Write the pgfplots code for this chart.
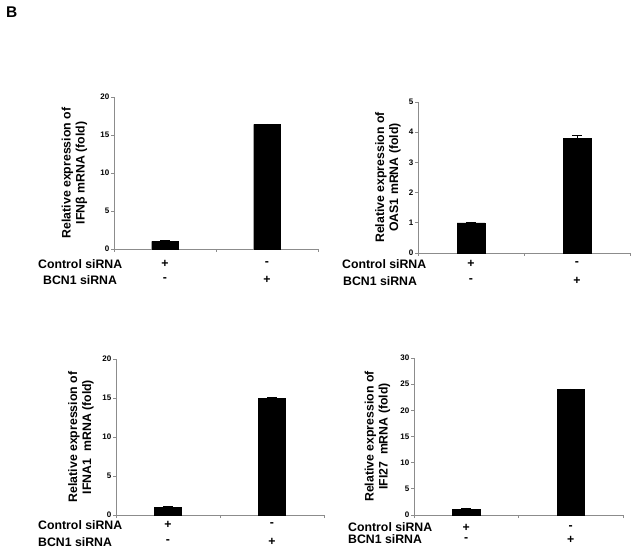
\documentclass[border=0pt]{standalone}
\usepackage{fontspec}
\setmainfont{Liberation Sans}
\usepackage{pgfplots}
\pgfplotsset{compat=1.18}
\newcommand{\lab}{\bfseries\fontsize{12.3}{14}\selectfont}
\tikzset{pm/.style={font=\lab, inner sep=0pt}}
\pgfplotsset{
  panel/.style={
    scale only axis, anchor=south west, clip=false,
    axis x line*=bottom, axis y line*=left,
    axis line style={black!45, line width=0.7pt},
    xmin=-0.5, xmax=1.5, ymin=0,
    xtick={-0.5,0.5,1.5}, xticklabels={},
    tick align=outside, major tick length=3pt,
    tick style={black!45, line width=0.7pt},
    /pgf/number format/assume math mode=true,
    y tick label style={font=\bfseries\fontsize{8}{9}\selectfont, inner sep=1.5pt},
    ylabel style={font=\lab, align=center, anchor=center},
  },
  bars/.style={
    ybar, fill=black, draw=black, bar width=0.26,
    error bars/.cd, y dir=plus, y explicit,
    error bar style={black, line width=0.7pt},
    error mark options={rotate=90, mark size=5pt, line width=0.7pt, black},
  },
}
\begin{document}
\begin{tikzpicture}
\path[use as bounding box] (0,0) rectangle (636pt,552pt);
\node[anchor=north west, font=\bfseries\fontsize{15.5}{17}\selectfont, inner sep=0pt] at (6pt,545pt) {B};

% Panel 1: IFNb
\begin{axis}[panel, at={(114pt,303pt)}, width=204pt, height=152pt,
  ymax=20, ytick={0,5,10,15,20},
  ylabel={Relative expression of\\IFNβ mRNA (fold)},
  ylabel style={at={(axis description cs:-0.194,0.5)}}]
\addplot[bars] coordinates {(0,1.0) +- (0,0.15) (1,16.4) +- (0,0.05)};
\node[pm] at ([yshift=-15pt]axis cs:0,0) {+};
\node[pm] at ([yshift=-15pt]axis cs:1,0) {-};
\node[pm] at ([yshift=-31pt]axis cs:0,0) {-};
\node[pm] at ([yshift=-31pt]axis cs:1,0) {+};
\end{axis}
\node[anchor=west, font=\lab, inner sep=0pt] at (38pt,288pt) {Control siRNA};
\node[anchor=west, font=\lab, inner sep=0pt] at (43pt,272pt) {BCN1 siRNA};

% Panel 2: OAS1
\begin{axis}[panel, at={(418pt,299pt)}, width=212pt, height=151pt,
  ymax=5, ytick={0,1,2,3,4,5},
  ylabel={Relative expression of\\OAS1 mRNA (fold)},
  ylabel style={at={(axis description cs:-0.142,0.5)}}]
\addplot[bars] coordinates {(0,1.0) +- (0,0.03) (1,3.8) +- (0,0.1)};
\node[pm] at ([yshift=-11pt]axis cs:0,0) {+};
\node[pm] at ([yshift=-11pt]axis cs:1,0) {-};
\node[pm] at ([yshift=-28pt]axis cs:0,0) {-};
\node[pm] at ([yshift=-28pt]axis cs:1,0) {+};
\end{axis}
\node[anchor=west, font=\lab, inner sep=0pt] at (342pt,288pt) {Control siRNA};
\node[anchor=west, font=\lab, inner sep=0pt] at (343pt,271pt) {BCN1 siRNA};

% Panel 3: IFNA1
\begin{axis}[panel, at={(116pt,37pt)}, width=208pt, height=156pt,
  ymax=20, ytick={0,5,10,15,20},
  ylabel={Relative expression of\\IFNA1\ \ mRNA (fold)},
  ylabel style={at={(axis description cs:-0.168,0.5)}}]
\addplot[bars] coordinates {(0,1.0) +- (0,0.05) (1,15.0) +- (0,0.05)};
\node[pm] at ([yshift=-10pt]axis cs:0,0) {+};
\node[pm] at ([yshift=-10pt]axis cs:1,0) {-};
\node[pm] at ([yshift=-27pt]axis cs:0,0) {-};
\node[pm] at ([yshift=-27pt]axis cs:1,0) {+};
\end{axis}
\node[anchor=west, font=\lab, inner sep=0pt] at (38pt,27pt) {Control siRNA};
\node[anchor=west, font=\lab, inner sep=0pt] at (38pt,10pt) {BCN1 siRNA};

% Panel 4: IFI27
\begin{axis}[panel, at={(414pt,37pt)}, width=209pt, height=157pt,
  ymax=30, ytick={0,5,10,15,20,25,30},
  ylabel={Relative expression of\\IFI27\ \ mRNA (fold)},
  ylabel style={at={(axis description cs:-0.175,0.5)}}]
\addplot[bars] coordinates {(0,1.1) +- (0,0.25) (1,24.0) +- (0,0.1)};
\node[pm] at ([yshift=-12.5pt]axis cs:0,0) {+};
\node[pm] at ([yshift=-12.5pt]axis cs:1,0) {-};
\node[pm] at ([yshift=-25pt]axis cs:0,0) {-};
\node[pm] at ([yshift=-25pt]axis cs:1,0) {+};
\end{axis}
\node[anchor=west, font=\lab, inner sep=0pt] at (348pt,24.5pt) {Control siRNA};
\node[anchor=west, font=\lab, inner sep=0pt] at (348pt,12.5pt) {BCN1 siRNA};
\end{tikzpicture}
\end{document}
